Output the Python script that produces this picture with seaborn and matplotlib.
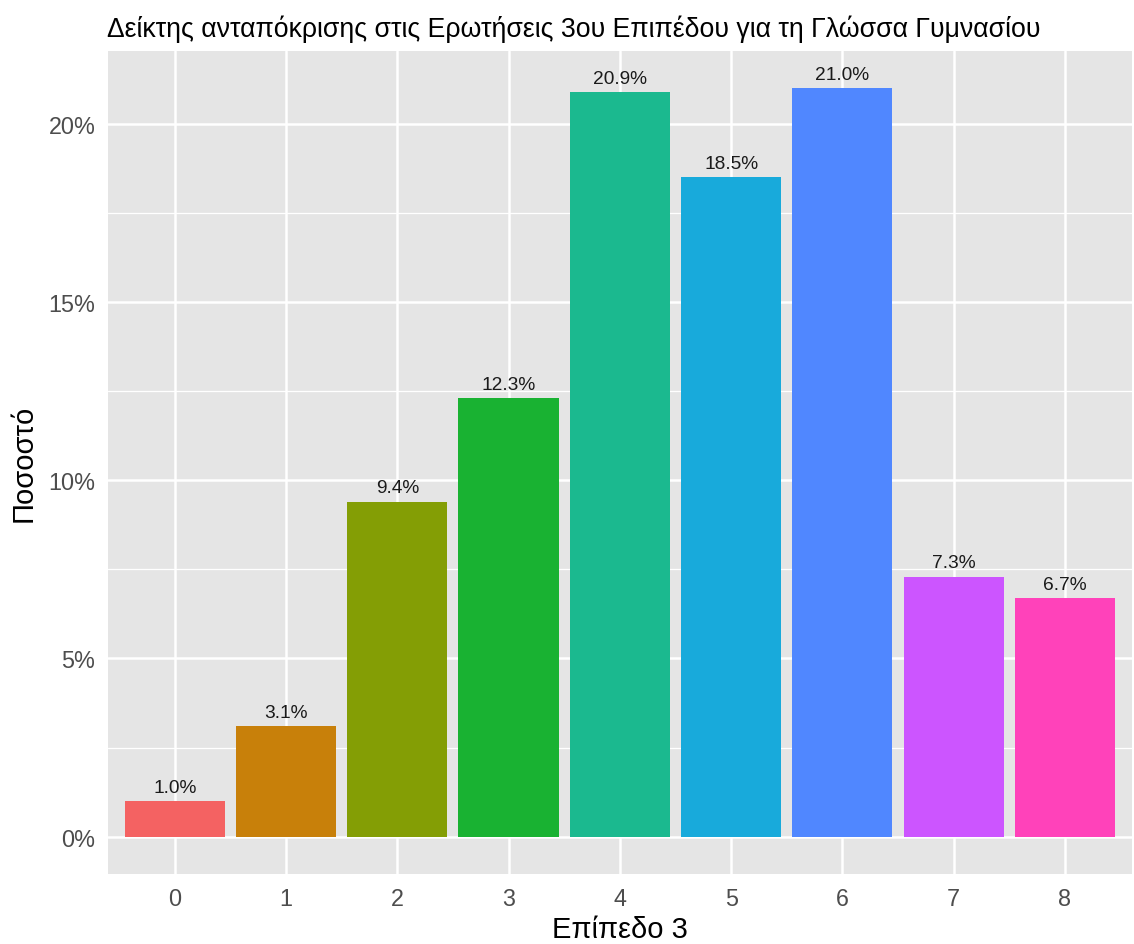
import matplotlib
matplotlib.use("Agg")
import matplotlib.pyplot as plt
from matplotlib.ticker import FixedLocator, FuncFormatter
import seaborn as sns
import pandas as pd

# data
levels = ["0", "1", "2", "3", "4", "5", "6", "7", "8"]
percent = [1.0, 3.1, 9.4, 12.3, 20.9, 18.5, 21.0, 7.3, 6.7]
colors = ["#F46262", "#C8800A", "#849E05", "#19B232", "#1BB98F",
          "#18AADB", "#5087FF", "#CC55FF", "#FF42BA"]

title = "Δείκτης ανταπόκρισης στις Ερωτήσεις 3ου Επιπέδου για τη Γλώσσα Γυμνασίου"
xlabel = "Επίπεδο 3"
ylabel = "Ποσοστό"

df = pd.DataFrame({"level": levels, "pct": percent})

sns.set_theme(style="darkgrid")
plt.rcParams["font.family"] = ["Liberation Sans", "DejaVu Sans"]

fig = plt.figure(figsize=(11.34, 9.45), dpi=100)
ax = fig.add_axes([0.0952, 0.074, 0.9028, 0.871])
ax.set_facecolor("#E5E5E5")

sns.barplot(data=df, x="level", y="pct", hue="level", palette=colors,
            width=0.9, linewidth=0, saturation=1, legend=False, ax=ax)

# value labels
for i, v in enumerate(percent):
    ax.text(i, v + 0.15, f"{v:.1f}%", ha="center", va="bottom",
            fontsize=13.8, color="#1A1A1A")

ax.set_xlim(-0.6, 8.6)
ax.set_ylim(-1.05, 22.05)
ax.yaxis.set_major_locator(FixedLocator([0, 5, 10, 15, 20]))
ax.yaxis.set_minor_locator(FixedLocator([2.5, 7.5, 12.5, 17.5]))
ax.yaxis.set_major_formatter(FuncFormatter(lambda y, _: f"{y:.0f}%"))

ax.grid(which="major", color="white", linewidth=1.8)
ax.grid(which="minor", axis="y", color="white", linewidth=0.9)
ax.set_axisbelow(True)
for s in ax.spines.values():
    s.set_visible(False)

ax.tick_params(axis="both", which="major", length=5, width=1.6,
               color="#333333", labelcolor="#4D4D4D", labelsize=16.8, pad=4)
ax.tick_params(axis="y", which="minor", length=0)

ax.set_xlabel(xlabel, fontsize=21, color="black", labelpad=4)
ax.set_ylabel(ylabel, fontsize=21, color="black", labelpad=8)
ax.set_title(title, fontsize=19.2, loc="left", x=-0.001, pad=11, color="black")

fig.savefig("out.png", dpi=100)
